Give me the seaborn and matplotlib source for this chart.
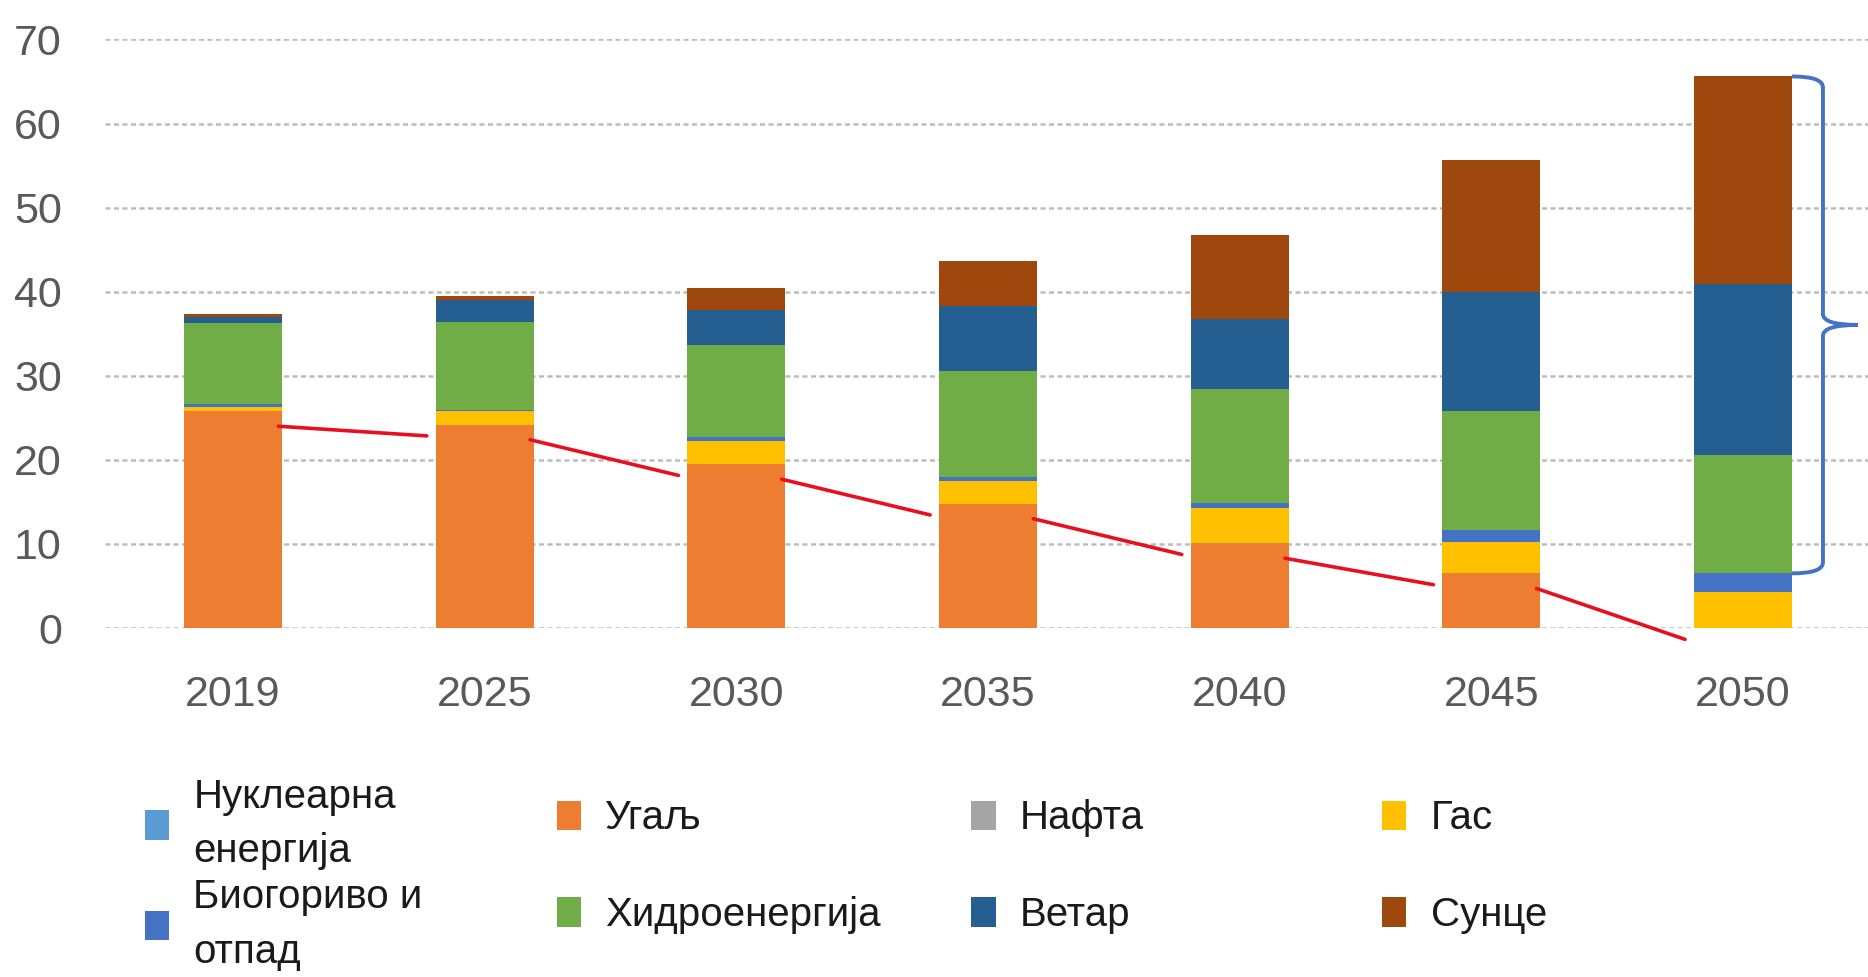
import numpy as np
import matplotlib
matplotlib.use("Agg")
import matplotlib.pyplot as plt
import seaborn as sns
from matplotlib.patches import Patch, PathPatch
from matplotlib.path import Path

# ---------------- data ----------------
years = ["2019", "2025", "2030", "2035", "2040", "2045", "2050"]
nuclear = [0.0, 0.0, 0.0, 0.0, 0.0, 0.0, 0.0]
coal = [25.8, 24.2, 19.5, 14.8, 10.1, 6.5, 0.0]
oil = [0.0, 0.0, 0.0, 0.0, 0.0, 0.0, 0.0]
gas = [0.5, 1.6, 2.7, 2.7, 4.2, 3.7, 4.3]
biofuel = [0.4, 0.1, 0.5, 0.5, 0.6, 1.5, 2.2]
hydro = [9.6, 10.5, 11.0, 12.6, 13.5, 14.1, 14.1]
wind = [0.7, 2.6, 4.1, 7.7, 8.4, 14.2, 20.3]
solar = [0.4, 0.5, 2.6, 5.3, 9.9, 15.7, 24.7]

labels = ["Нуклеарна\nенергија", "Угаљ", "Нафта", "Гас",
          "Биогориво и\nотпад", "Хидроенергија", "Ветар", "Сунце"]
colors = ["#5B9BD5", "#ED7D31", "#A5A5A5", "#FFC000",
          "#4472C4", "#70AD47", "#255E91", "#9E480E"]
yticks = [0, 10, 20, 30, 40, 50, 60, 70]

series = [nuclear, coal, oil, gas, biofuel, hydro, wind, solar]

# ---------------- style ----------------
sns.set_style("white")
plt.rcParams['font.family'] = ['Liberation Sans', 'DejaVu Sans']

fig = plt.figure(figsize=(18.68, 9.77), dpi=100)
ax = fig.add_axes([0.0562, 0.3572, 0.9438, 0.6024])

BAR_W = 0.39
bottom = np.zeros(len(years))
for vals, col in zip(series, colors):
    sns.barplot(x=years, y=vals, order=years, color=col, saturation=1,
                width=BAR_W, errorbar=None, bottom=bottom.copy(), ax=ax,
                linewidth=0, zorder=2)
    bottom += np.array(vals)

ax.set_xlim(-0.509, 6.497)
ax.set_ylim(0, 70)
ax.set_yticks(yticks)
ax.yaxis.grid(True, color="#BDBDBD", linestyle=(0, (2, 1.4)), linewidth=1.8, zorder=0)
ax.xaxis.grid(False)
ax.set_axisbelow(True)
for s in ax.spines.values():
    s.set_visible(False)
ax.tick_params(axis="y", length=0, pad=31, labelsize=31, labelcolor="#595959")
ax.tick_params(axis="x", length=0, pad=34, labelsize=31, labelcolor="#595959")
ax.set_xlabel("")
ax.set_ylabel("")

# ---------------- hand-drawn annotations ----------------
coal_arr = np.array(coal)
for i in range(len(years) - 1):
    ax.plot([i + 0.18, i + 0.77], [coal_arr[i] - 1.8, coal_arr[i + 1] - 1.35],
            color="#E8101E", lw=2.6, solid_capstyle="round", clip_on=False, zorder=5)

# curly brace next to the last bar (renewable part)
last = len(years) - 1
top = bottom[last]
bot = nuclear[last] + coal[last] + oil[last] + gas[last] + biofuel[last]
mid = (top + bot) / 2
xb = last + BAR_W / 2
xv = last + 0.318
xt = last + 0.457
ry = 1.3
verts = [
    (xb, top), (xv, top), (xv, top - ry),
    (xv, mid + ry),
    (xv, mid), (xt, mid),
    (xv, mid), (xv, mid - ry),
    (xv, bot + ry),
    (xv, bot), (xb, bot),
]
codes = [Path.MOVETO, Path.CURVE3, Path.CURVE3,
         Path.LINETO,
         Path.CURVE3, Path.CURVE3,
         Path.CURVE3, Path.CURVE3,
         Path.LINETO,
         Path.CURVE3, Path.CURVE3]
ax.add_patch(PathPatch(Path(verts, codes), fill=False, edgecolor="#4472C4",
                       lw=2.8, clip_on=False, zorder=5))

# ---------------- legend (4 columns x 2 rows) ----------------
handles = [Patch(facecolor=c, edgecolor="none") for c in colors]
col_pairs = [(0, 4), (1, 5), (2, 6), (3, 7)]
xpos = [0.0776, 0.298, 0.520, 0.740]
ypos = [0.105, 0.113, 0.113, 0.113]
lspace = [0.2, 1.45, 1.45, 1.45]
for k, (i, j) in enumerate(col_pairs):
    leg = fig.legend([handles[i], handles[j]], [labels[i], labels[j]],
                     loc="center left", bbox_to_anchor=(xpos[k], ypos[k]),
                     frameon=False, fontsize=29, handlelength=0.6,
                     handleheight=0.75, handletextpad=0.6, borderpad=0,
                     borderaxespad=0, labelspacing=lspace[k])
    for t in leg.get_texts():
        t.set_linespacing(1.55)
        t.set_color("#1A1A1A")

fig.savefig("out.png", dpi=100)
